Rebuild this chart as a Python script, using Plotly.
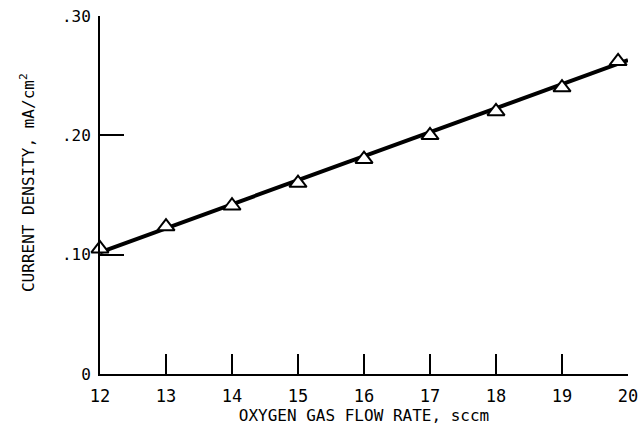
import plotly.graph_objects as go

flow_rate = [12, 13, 14, 15, 16, 17, 18, 19, 19.85]
current_density = [0.105, 0.1235, 0.141, 0.160, 0.180, 0.200, 0.220, 0.240, 0.262]
fit_x = [12, 20]
fit_y = [0.102, 0.263]
x_ticks = [12, 13, 14, 15, 16, 17, 18, 19, 20]
y_ticks = [0, 0.10, 0.20, 0.30]
y_tick_text = ["0", ".10", ".20", ".30"]

FONT = "DejaVu Sans Mono"

fig = go.Figure()
fig.add_trace(go.Scatter(x=fit_x, y=fit_y, mode="lines",
                         line=dict(color="black", width=4), showlegend=False))
fig.add_trace(go.Scatter(x=flow_rate, y=current_density, mode="markers",
                         marker=dict(symbol="triangle-up", size=15, color="white",
                                     line=dict(color="black", width=2)),
                         showlegend=False, cliponaxis=False))

fig.update_layout(
    width=640, height=432,
    margin=dict(l=100, r=12, t=16, b=58),
    paper_bgcolor="white", plot_bgcolor="white",
    font=dict(family=FONT, color="black", size=15),
    xaxis=dict(range=[12, 20], tickvals=x_ticks, ticks="inside", ticklen=20,
               tickwidth=2, tickcolor="black", showline=True, linecolor="black",
               linewidth=2, showgrid=False, zeroline=False, automargin=False,
               ticklabelstandoff=6,
               tickfont=dict(size=17, family=FONT),
               title=dict(text="OXYGEN GAS FLOW RATE, sccm", standoff=4,
                          font=dict(size=16, family=FONT))),
    yaxis=dict(range=[0, 0.30], tickvals=y_ticks, ticktext=y_tick_text,
               ticks="inside", ticklen=24, tickwidth=2, tickcolor="black",
               showline=True, linecolor="black", linewidth=2, showgrid=False,
               zeroline=False, ticklabelstandoff=4, automargin=False,
               tickfont=dict(size=16, family=FONT)),
    annotations=[dict(text="CURRENT DENSITY, mA/cm<sup>2</sup>", textangle=-90,
                      xref="paper", yref="paper", x=-0.136, y=0.534,
                      xanchor="center", yanchor="middle", showarrow=False,
                      font=dict(size=16, family=FONT))],
)

fig.write_html("out.html")
